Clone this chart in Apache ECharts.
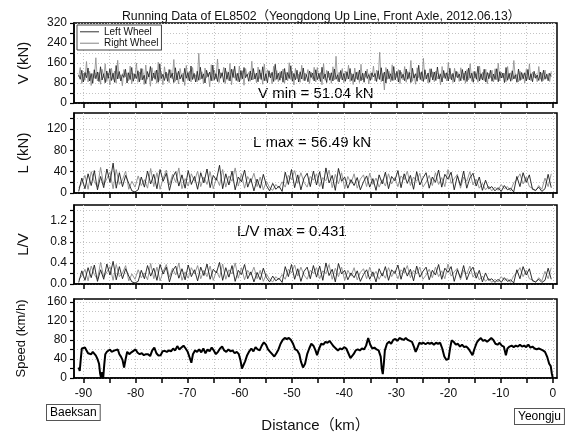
<!DOCTYPE html>
<html><head><meta charset="utf-8">
<script src="https://cdn.jsdelivr.net/npm/echarts@6/dist/echarts.min.js"></script>
<style>html,body{margin:0;padding:0;background:#fff}#c{width:572px;height:434px}</style>
</head><body><div id="c"></div>
<script>
// ---- data ----
const DIST_START = -90.9, DIST_END = -0.3; // km range covered by sampled wheel-force records
const vLeft = [
112,95,131,84,122,101,140,88,118,79,133,97,124,86,145,92,117,81,128,
99,137,90,119,83,150,96,126,88,114,102,135,80,121,94,142,87,116,98,
129,85,138,93,111,78,126,104,146,89,120,95,132,83,157,98,115,90,124,
87,134,101,119,82,141,92,127,96,113,85,139,99,122,88,148,94,118,84,
127,91,143,97,116,80,131,105,124,89,152,93,117,86,136,99,121,83,140,
95,123,88,135,102,147,90,119,84,130,97,142,101,115,87,128,92,138,96,
120,85,133,94,145,89,117,81,129,100,123,86,155,95,119,91,127,83,138,
92,122,98,149,87,118,93,131,84,125,96,140,89,114,85,128,102,120,88,
133,93,119,86,143,97,116,82,127,91,121,88,136,95,113,84,130,92,118,
87,125,96,138,90,116,85,123,93,132,89,119,83,128,98,114,91,121,104,
118,86,129,94,141,88,124,80,135,97,117,90,146,93,126,84,131,99,115,
89,136,95,122,82,139,100,117,87,151,94,125,86,133,97,120,83,137,92,
124,90,144,96,115,84,130,98,121,88,139,93,118,85,127,101,116,89,134,
91,128,86,140,99,119,83,126,95,147,88,117,92,135,84,122,97,131,87,
116,94,137,85,125,100,120,82,142,91,118,87,129,96,113,83,136,90,122,
97,121,88,134,92,117,85,127,99,112,90,124,86,131,95,115,89,119,106];
const vRight = [
104,142,78,119,91,166,84,127,70,116,99,181,88,123,75,135,102,157,86,
120,72,139,94,128,80,171,98,113,69,134,105,121,89,148,77,118,97,160,
83,124,92,137,74,152,95,117,67,141,100,129,79,163,90,122,73,145,99,
116,81,133,96,174,87,121,76,138,103,119,70,150,92,127,84,142,98,113,
85,199,94,125,76,140,101,119,65,153,88,132,96,176,82,121,107,143,78,
126,90,158,73,135,99,116,86,148,93,129,71,138,109,122,87,167,94,117,
81,144,98,120,75,156,89,133,104,118,77,147,91,130,85,125,100,136,79,
123,88,161,94,127,72,139,97,115,83,151,90,120,106,134,78,124,95,143,
84,142,96,122,73,158,91,131,102,120,79,145,93,187,87,123,98,138,81,
127,95,151,86,118,74,140,97,125,82,155,92,119,103,136,76,121,94,148,
88,132,97,203,85,118,52,142,95,127,84,153,90,117,105,134,78,123,92,
146,83,126,99,170,87,114,75,141,101,122,89,179,94,112,80,137,103,125,
85,128,97,117,73,146,101,120,88,162,96,114,82,139,103,125,86,141,98,
120,79,134,92,157,87,126,101,116,83,148,95,123,89,135,77,119,102,131,
84,137,93,159,88,124,100,118,85,146,97,121,91,170,98,115,84,127,93,
118,80,135,94,157,89,124,101,116,85,146,95,121,90,132,98,117,86,127];
const lLeft = [
3,28,8,36,14,42,6,31,10,45,20,56,9,38,12,33,18,4,2,
6,30,11,41,17,35,8,44,22,37,5,29,40,13,34,9,42,16,31,
7,38,19,45,10,33,24,52,8,36,15,41,6,30,21,43,11,27,4,
26,9,35,14,4,18,7,13,3,39,16,44,10,34,6,28,37,12,41,
15,40,8,47,19,33,5,46,22,30,9,25,14,29,6,21,32,11,27,
5,34,17,39,8,31,23,42,10,36,18,33,7,40,15,28,38,9,30,
20,43,11,35,26,39,6,32,14,41,9,28,37,13,30,5,24,8,12,
4,10,3,14,6,9,2,31,12,38,20,34,7,5,11,3,8,35,10];
const lRight = [
10,18,33,7,40,21,11,48,15,27,39,8,44,16,25,41,7,22,11,
32,14,25,9,46,12,38,7,28,43,15,35,20,47,8,27,13,36,22,
41,12,30,16,40,8,29,14,44,11,32,22,47,13,36,9,31,20,37,
12,30,6,22,10,5,16,9,21,11,33,25,42,18,38,20,11,31,24,
36,12,29,23,43,10,35,17,38,8,31,18,36,9,26,34,12,37,16,
28,11,25,13,36,17,29,12,32,25,41,14,30,22,37,11,20,33,14,
38,16,29,12,44,18,27,35,9,30,22,40,15,26,9,18,6,13,4,
11,5,16,8,12,4,19,25,36,17,30,12,9,4,14,7,28,12,36];
const lvLeft = [
0.03,0.25,0.07,0.31,0.12,0.36,0.05,0.27,0.09,0.38,0.17,0.43,0.08,0.33,0.10,0.29,0.15,0.04,0.02,
0.05,0.26,0.10,0.35,0.15,0.30,0.07,0.37,0.19,0.32,0.04,0.25,0.34,0.11,0.29,0.08,0.36,0.14,0.27,
0.06,0.32,0.16,0.38,0.09,0.28,0.21,0.41,0.07,0.31,0.13,0.35,0.05,0.26,0.18,0.37,0.10,0.23,0.04,
0.22,0.08,0.30,0.12,0.04,0.15,0.06,0.11,0.03,0.33,0.14,0.37,0.09,0.29,0.05,0.24,0.32,0.10,0.35,
0.13,0.34,0.07,0.40,0.16,0.28,0.04,0.39,0.19,0.26,0.08,0.21,0.12,0.25,0.05,0.18,0.27,0.09,0.23,
0.04,0.29,0.15,0.33,0.07,0.27,0.20,0.36,0.09,0.31,0.15,0.28,0.06,0.34,0.13,0.24,0.32,0.08,0.26,
0.17,0.37,0.09,0.30,0.22,0.33,0.05,0.27,0.12,0.35,0.08,0.24,0.32,0.11,0.26,0.04,0.21,0.07,0.10,
0.03,0.09,0.03,0.12,0.05,0.08,0.02,0.27,0.10,0.33,0.17,0.29,0.06,0.04,0.09,0.03,0.07,0.30,0.09];
const lvRight = [
0.09,0.15,0.28,0.06,0.34,0.18,0.09,0.41,0.13,0.23,0.33,0.07,0.37,0.14,0.21,0.35,0.06,0.19,0.09,
0.27,0.12,0.21,0.08,0.39,0.10,0.32,0.06,0.24,0.37,0.13,0.30,0.17,0.40,0.07,0.23,0.11,0.31,0.19,
0.35,0.10,0.26,0.14,0.34,0.07,0.25,0.12,0.38,0.09,0.27,0.19,0.40,0.11,0.31,0.08,0.26,0.17,0.32,
0.10,0.26,0.05,0.19,0.09,0.04,0.14,0.08,0.18,0.09,0.28,0.21,0.36,0.15,0.32,0.17,0.09,0.26,0.20,
0.31,0.10,0.25,0.20,0.37,0.09,0.30,0.14,0.32,0.07,0.26,0.15,0.31,0.08,0.22,0.29,0.10,0.32,0.14,
0.24,0.09,0.21,0.11,0.31,0.14,0.25,0.10,0.27,0.21,0.35,0.12,0.26,0.19,0.32,0.09,0.17,0.28,0.12,
0.32,0.14,0.25,0.10,0.38,0.15,0.23,0.30,0.08,0.26,0.19,0.34,0.13,0.22,0.08,0.15,0.05,0.11,0.03,
0.09,0.04,0.14,0.07,0.10,0.03,0.16,0.21,0.31,0.14,0.26,0.10,0.08,0.03,0.12,0.06,0.24,0.10,0.31];
const speedPts = [
[-90.9,22],[-90.7,15],[-90.5,40],[-90.3,62],[-90.0,66],[-89.7,64],[-89.4,58],[-89.1,52],[-88.8,54],[-88.5,50],
[-88.2,55],[-87.9,52],[-87.6,47],[-87.3,40],[-87.0,30],[-86.8,10],[-86.6,0],[-86.4,12],[-86.2,0],[-86.0,28],
[-85.8,50],[-85.5,55],[-85.2,52],[-84.9,60],[-84.6,55],[-84.3,52],[-84.0,58],[-83.7,54],[-83.4,60],[-83.1,50],
[-82.8,45],[-82.5,38],[-82.2,22],[-81.9,40],[-81.6,55],[-81.2,50],[-80.8,54],[-80.4,57],[-80.0,60],[-79.6,53],
[-79.2,50],[-78.8,52],[-78.4,48],[-78.0,50],[-77.6,50],[-77.2,46],[-76.8,58],[-76.4,64],[-76.0,52],[-75.6,47],
[-75.2,48],[-74.8,56],[-74.4,57],[-74.0,55],[-73.6,58],[-73.2,56],[-72.8,62],[-72.4,58],[-72.0,67],[-71.6,60],
[-71.2,64],[-70.8,68],[-70.4,62],[-70.0,55],[-69.6,42],[-69.3,32],[-69.0,50],[-68.6,58],[-68.2,55],[-67.8,60],
[-67.4,54],[-67.0,62],[-66.6,52],[-66.2,60],[-65.8,56],[-65.4,64],[-65.0,58],[-64.6,50],[-64.2,55],[-63.8,62],
[-63.4,66],[-63.0,58],[-62.6,55],[-62.2,60],[-61.8,56],[-61.4,58],[-61.0,52],[-60.6,55],[-60.2,50],[-59.9,38],
[-59.6,20],[-59.3,22],[-59.0,35],[-58.6,48],[-58.2,56],[-57.8,62],[-57.4,56],[-57.0,65],[-56.6,60],[-56.2,58],
[-55.8,68],[-55.4,75],[-55.0,70],[-54.6,60],[-54.2,55],[-53.8,50],[-53.4,45],[-53.0,52],[-52.6,60],[-52.2,72],
[-51.8,80],[-51.4,84],[-51.0,82],[-50.6,84],[-50.2,80],[-49.8,72],[-49.4,60],[-49.0,58],[-48.6,50],[-48.3,35],
[-47.9,22],[-47.5,30],[-47.1,50],[-46.7,62],[-46.3,72],[-45.9,68],[-45.5,58],[-45.2,48],[-44.8,62],[-44.4,72],
[-44.0,70],[-43.6,76],[-43.2,74],[-42.8,78],[-42.4,72],[-42.0,66],[-41.6,62],[-41.2,58],[-40.8,62],[-40.4,60],
[-40.0,65],[-39.6,62],[-39.2,52],[-38.8,42],[-38.5,38],[-38.2,50],[-37.8,58],[-37.4,60],[-37.0,58],[-36.6,62],
[-36.2,60],[-35.8,68],[-35.4,84],[-35.0,70],[-34.6,62],[-34.2,64],[-33.8,60],[-33.4,58],[-33.0,45],[-32.8,20],
[-32.6,8],[-32.4,30],[-32.2,58],[-31.8,72],[-31.4,76],[-31.0,72],[-30.6,80],[-30.2,82],[-29.8,78],[-29.4,84],
[-29.0,82],[-28.6,80],[-28.2,84],[-27.8,80],[-27.4,78],[-27.0,76],[-26.6,65],[-26.3,55],[-26.0,62],[-25.6,74],
[-25.2,72],[-24.8,74],[-24.4,71],[-24.0,74],[-23.6,72],[-23.2,74],[-22.8,70],[-22.4,74],[-22.0,72],[-21.6,74],
[-21.2,62],[-20.8,45],[-20.4,38],[-20.0,40],[-19.7,62],[-19.4,79],[-19.0,76],[-18.6,70],[-18.2,72],[-17.8,66],
[-17.4,70],[-17.0,65],[-16.6,66],[-16.2,62],[-15.8,55],[-15.4,48],[-15.0,62],[-14.6,74],[-14.2,80],[-13.8,84],
[-13.4,78],[-13.0,80],[-12.6,76],[-12.2,80],[-11.8,84],[-11.4,80],[-11.0,72],[-10.6,70],[-10.2,74],[-9.8,68],
[-9.4,66],[-9.0,48],[-8.7,62],[-8.3,66],[-7.9,68],[-7.5,65],[-7.1,68],[-6.7,66],[-6.3,70],[-5.9,66],
[-5.5,68],[-5.1,65],[-4.7,70],[-4.3,64],[-3.9,66],[-3.5,62],[-3.1,60],[-2.7,62],[-2.3,60],[-1.9,58],
[-1.5,55],[-1.1,45],[-0.7,30],[-0.4,25],[-0.2,10],[0,0]];
// ---- tick labels / tick positions ----
const xLabels = [-90,-80,-70,-60,-50,-40,-30,-20,-10,0];
const xMinor = [-90,-85,-80,-75,-70,-65,-60,-55,-50,-45,-40,-35,-30,-25,-20,-15,-10,-5,0];
const vLabels = [0,80,160,240,320];     const vMinor = [0,40,80,120,160,200,240,280,320];
const lLabels = [0,40,80,120];          const lMinor = [0,20,40,60,80,100,120,140];
const lvLabels = [0,0.4,0.8,1.2];       const lvMinor = [0,0.2,0.4,0.6,0.8,1.0,1.2,1.4];
const spLabels = [0,40,80,120,160];     const spMinor = [0,20,40,60,80,100,120,140,160];
const titleText = 'Running Data of EL8502（Yeongdong Up Line, Front Axle, 2012.06.13）';

function withDist(vals){
  const n = vals.length;
  return vals.map((v,i)=>[DIST_START + i*(DIST_END-DIST_START)/(n-1), v]);
}

const FONT = '"Liberation Sans", Arial, "Noto Sans CJK SC", sans-serif';
const grids = [
  {left:74, right:15, top:23, height:80},
  {left:74, right:15, top:113, height:80},
  {left:74, right:15, top:205, height:79},
  {left:74, right:15, top:299, height:79}
].map(g=>Object.assign({show:true, borderColor:'#000', borderWidth:1.5, backgroundColor:'transparent'}, g));

const xAxis = [], yAxis = [];
const yDefs = [
  {max:320, labels:vLabels, minor:vMinor, name:'V (kN)', size:15, gap:43, fmt:v=>String(v)},
  {max:150, labels:lLabels, minor:lMinor, name:'L (kN)', size:15, gap:43, fmt:v=>String(v)},
  {max:1.5, labels:lvLabels, minor:lvMinor, name:'L/V', size:15, gap:43, fmt:v=>v.toFixed(1)},
  {max:166, labels:spLabels, minor:spMinor, name:'Speed (km/h)', size:13, gap:46, fmt:v=>String(v)}
];
for (let g=0; g<4; g++){
  xAxis.push({type:'value', gridIndex:g, min:-91.8, max:0.8, position:'bottom',
    axisLine:{show:true, onZero:false, lineStyle:{color:'#000', width:1.5}},
    axisTick:{show:true, inside:false, length:5, customValues:xMinor, lineStyle:{color:'#000', width:1.5}},
    axisLabel:{show:g===3, customValues:xLabels, margin:10, fontSize:12, color:'#111', fontFamily:FONT},
    splitLine:{show:true, lineStyle:{color:'#c4c4c4', type:[1,2], width:1}},
    name: g===3 ? 'Distance（km）' : '', nameLocation:'middle', nameGap:40,
    nameTextStyle:{fontSize:15, color:'#111', fontFamily:FONT}
  });
  const d = yDefs[g];
  yAxis.push({type:'value', gridIndex:g, min:0, max:d.max, position:'left',
    axisLine:{show:true, onZero:false, lineStyle:{color:'#000', width:1.5}},
    axisTick:{show:true, inside:false, length:4, customValues:d.minor, lineStyle:{color:'#000', width:1.2}},
    axisLabel:{show:true, customValues:d.labels, margin:7, fontSize:12, color:'#111', fontFamily:FONT, formatter:d.fmt},
    splitLine:{show:true, lineStyle:{color:'#c4c4c4', type:[1,2], width:1}},
    name:d.name, nameLocation:'middle', nameGap:d.gap, nameRotate:90,
    nameTextStyle:{fontSize:d.size, color:'#111', fontFamily:FONT}
  });
}

const LEFT_C = '#1a1a1a', RIGHT_C = '#8a8a8a';
function noise(name, color, g, vals, w){
  return {type:'line', name, xAxisIndex:g, yAxisIndex:g, data:withDist(vals),
    symbol:'none', lineStyle:{width:w, color}, itemStyle:{color}, silent:true};
}
const series = [
  noise('Right Wheel', RIGHT_C, 0, vRight, 0.8), noise('Left Wheel', LEFT_C, 0, vLeft, 0.8),
  noise('Right Wheel', RIGHT_C, 1, lRight, 0.9), noise('Left Wheel', LEFT_C, 1, lLeft, 0.9),
  noise('Right Wheel', RIGHT_C, 2, lvRight, 0.9), noise('Left Wheel', LEFT_C, 2, lvLeft, 0.9),
  {type:'line', name:'Speed', xAxisIndex:3, yAxisIndex:3, data:speedPts, symbol:'none',
   lineStyle:{width:2, color:'#000'}, itemStyle:{color:'#000'}, silent:true}
];

const option = {
  animation:false,
  backgroundColor:'#fff',
  title:{text:titleText, left:316, textAlign:'center', top:5,
    textStyle:{fontSize:12.3, fontWeight:'normal', color:'#111', fontFamily:FONT}},
  legend:{data:[{name:'Left Wheel', icon:'rect', itemStyle:{color:'#555'}},
                {name:'Right Wheel', icon:'rect', itemStyle:{color:'#999'}}],
    orient:'vertical', left:77, top:25, itemWidth:19, itemHeight:1.2, itemGap:0,
    padding:[1,3,1,3], borderColor:'#444', borderWidth:1, backgroundColor:'#fff',
    textStyle:{fontSize:10, lineHeight:11.5, color:'#111', fontFamily:FONT}, selectedMode:false},
  grid:grids, xAxis, yAxis, series,
  graphic:[
    {type:'text', left:258, top:86, style:{text:'V min = 51.04 kN', font:'15px '+FONT, fill:'#000'}},
    {type:'text', left:253, top:135, style:{text:'L max = 56.49 kN', font:'15px '+FONT, fill:'#000'}},
    {type:'text', left:237, top:224, style:{text:'L/V max = 0.431', font:'15px '+FONT, fill:'#000'}},
    {type:'text', left:46, top:404, style:{text:'Baeksan', font:'12px '+FONT, fill:'#000',
      backgroundColor:'#fff', borderColor:'#555', borderWidth:1, padding:[2,3,1,3]}},
    {type:'text', left:514, top:408, style:{text:'Yeongju', font:'12px '+FONT, fill:'#000',
      backgroundColor:'#fff', borderColor:'#555', borderWidth:1, padding:[2,3,1,3]}}
  ]
};
const chart = echarts.init(document.getElementById('c'), null, {renderer:'canvas'});
chart.setOption(option);
</script></body></html>
